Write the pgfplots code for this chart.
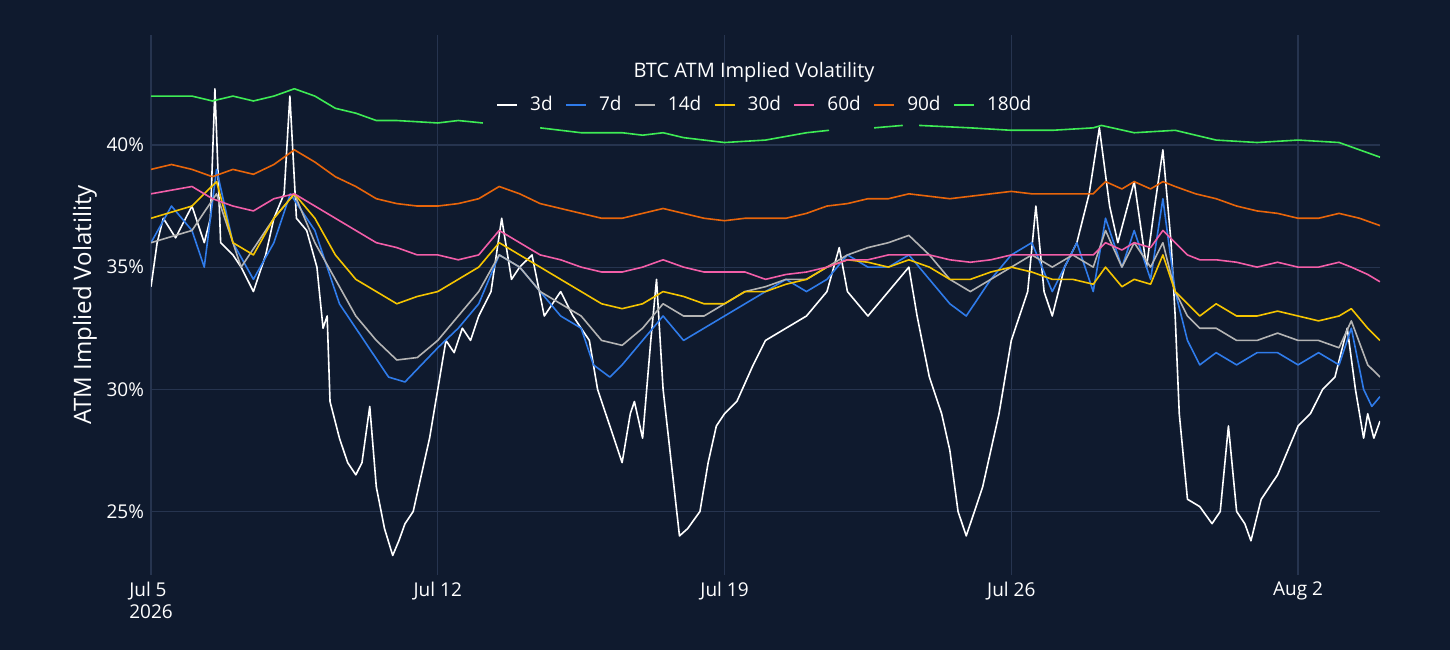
\documentclass[border=0pt]{standalone}
\usepackage{pgfplots}
\pgfplotsset{compat=1.18}
\usepackage{fontspec}
\setmainfont{Open Sans}
\definecolor{bg}{HTML}{0F1A2E}
\definecolor{gridc}{HTML}{26344F}
\definecolor{c3}{HTML}{FFFFFF}
\definecolor{c7}{HTML}{2F7BEA}
\definecolor{c14}{HTML}{B4B4B4}
\definecolor{c30}{HTML}{F5C400}
\definecolor{c60}{HTML}{F25EA8}
\definecolor{c90}{HTML}{E8650A}
\definecolor{c180}{HTML}{3EEB55}
\begin{document}
\begin{tikzpicture}
\fill[bg] (0,0) rectangle (725pt,325pt);
\useasboundingbox (0,0) rectangle (725pt,325pt);
\node[text=white,font=\fontsize{10}{12}\selectfont] at (377pt,289pt) {BTC ATM Implied Volatility};
\begin{axis}[at={(75.5pt,37.5pt)},anchor=south west,scale only axis,
width=614.5pt,height=270pt,xmin=0,xmax=30,ymin=22.4,ymax=44.5,
axis line style={draw=none},tick style={draw=none},
grid=major,grid style={gridc,line width=0.6pt},
xtick={0,7,14,21,28},xticklabels={Jul 5\\2026,Jul 12,Jul 19,Jul 26,Aug 2},
xticklabel style={align=left,text=white,font=\fontsize{9.5}{11}\selectfont},
ytick={25,30,35,40},yticklabels={25\%,30\%,35\%,40\%},
yticklabel style={text=white,font=\fontsize{9.5}{11}\selectfont},
ylabel={ATM Implied Volatility},ylabel style={text=white,font=\fontsize{12}{14}\selectfont,yshift=-2pt},
unbounded coords=jump,
legend style={at={(0.5,0.87)},anchor=center,draw=none,fill=none,text=white,font=\fontsize{9.5}{11}\selectfont,legend columns=-1,column sep=4pt},
legend image code/.code={\draw[#1,line width=1.2pt] (0pt,0pt)--(10pt,0pt);},
every axis plot/.append style={line width=0.8pt,line join=round}]
\addplot[c3] coordinates {(0,34.2)(0.15,36)(0.3,37)(0.6,36.2)(1,37.5)(1.3,36)(1.45,37)(1.56,42.3)(1.7,36)(2,35.5)(2.2,35)(2.5,34)(2.8,35.5)(3,37)(3.25,38)(3.39,42)(3.55,37)(3.8,36.5)(4.05,35)(4.2,32.5)(4.3,33)(4.37,29.5)(4.6,28)(4.8,27)(5,26.5)(5.15,27)(5.34,29.3)(5.5,26)(5.7,24.3)(5.9,23.2)(6.05,23.8)(6.2,24.5)(6.4,25)(6.6,26.5)(6.8,28)(7,30)(7.2,32)(7.4,31.5)(7.6,32.5)(7.8,32)(8,33)(8.3,34)(8.56,37)(8.8,34.5)(9,35)(9.3,35.5)(9.6,33)(10,34)(10.3,33)(10.7,32)(10.9,30)(11.1,29)(11.3,28)(11.5,27)(11.7,29)(11.8,29.5)(12,28)(12.2,32)(12.34,34.5)(12.5,30)(12.7,27)(12.9,24)(13.1,24.3)(13.4,25)(13.6,27)(13.8,28.5)(14,29)(14.3,29.5)(14.7,31)(15,32)(15.5,32.5)(16,33)(16.5,34)(16.8,35.8)(17,34)(17.5,33)(18,34)(18.5,35)(18.7,33)(19,30.5)(19.3,29)(19.5,27.5)(19.7,25)(19.9,24)(20.1,25)(20.3,26)(20.5,27.5)(20.7,29)(21,32)(21.2,33)(21.4,34)(21.6,37.5)(21.8,34)(22,33)(22.3,35)(22.6,36)(22.9,38)(23.15,40.7)(23.4,37.5)(23.6,36)(24,38.5)(24.3,35)(24.5,37.5)(24.7,39.8)(24.9,36)(25,33)(25.1,29)(25.3,25.5)(25.6,25.2)(25.9,24.5)(26.1,25)(26.3,28.5)(26.5,25)(26.7,24.5)(26.85,23.8)(27.1,25.5)(27.5,26.5)(28,28.5)(28.3,29)(28.6,30)(28.9,30.5)(29.2,32.5)(29.4,30)(29.6,28)(29.7,29)(29.85,28)(30,28.7)};
\addlegendentry{3d}
\addplot[c7] coordinates {(0,36)(0.5,37.5)(1,36.5)(1.3,35)(1.6,39)(2,36)(2.5,34.5)(3,36)(3.4,38)(4,36.5)(4.3,35)(4.6,33.5)(5,32.5)(5.4,31.5)(5.8,30.5)(6.2,30.3)(6.6,31)(7,31.7)(7.5,32.5)(8,33.5)(8.5,35.5)(9,35)(9.5,34)(10,33)(10.5,32.5)(10.8,31)(11.2,30.5)(11.5,31)(12,32)(12.5,33)(13,32)(13.5,32.5)(14,33)(14.5,33.5)(15,34)(15.5,34.5)(16,34)(16.5,34.5)(17,35.5)(17.5,35)(18,35)(18.5,35.5)(19,34.5)(19.5,33.5)(19.9,33)(20.5,34.5)(21,35.5)(21.5,36)(22,34)(22.6,36)(23,34)(23.3,37)(23.7,35)(24,36.5)(24.4,34.5)(24.7,37.8)(25,34)(25.3,32)(25.6,31)(26,31.5)(26.5,31)(27,31.5)(27.5,31.5)(28,31)(28.5,31.5)(29,31)(29.3,32.5)(29.6,30)(29.8,29.3)(30,29.7)};
\addlegendentry{7d}
\addplot[c14] coordinates {(0,36)(1,36.5)(1.6,38)(2.2,35)(3,37)(3.5,38)(4,36)(4.5,34.5)(5,33)(5.5,32)(6,31.2)(6.5,31.3)(7,32)(7.5,33)(8,34)(8.5,35.5)(9,35)(9.5,34)(10,33.5)(10.5,33)(11,32)(11.5,31.8)(12,32.5)(12.5,33.5)(13,33)(13.5,33)(14,33.5)(14.5,34)(15,34.2)(15.5,34.5)(16,34.5)(16.5,35)(17,35.5)(17.5,35.8)(18,36)(18.5,36.3)(19,35.5)(19.5,34.5)(20,34)(20.5,34.5)(21,35)(21.5,35.5)(22,35)(22.5,35.5)(23,35)(23.3,36.5)(23.7,35)(24,36)(24.4,35)(24.7,36)(25,34)(25.3,33)(25.6,32.5)(26,32.5)(26.5,32)(27,32)(27.5,32.3)(28,32)(28.5,32)(29,31.7)(29.3,32.8)(29.7,31)(30,30.5)};
\addlegendentry{14d}
\addplot[c30] coordinates {(0,37)(1,37.5)(1.6,38.5)(2,36)(2.5,35.5)(3,37)(3.5,38)(4,37)(4.5,35.5)(5,34.5)(5.5,34)(6,33.5)(6.5,33.8)(7,34)(7.5,34.5)(8,35)(8.5,36)(9,35.5)(9.5,35)(10,34.5)(10.5,34)(11,33.5)(11.5,33.3)(12,33.5)(12.5,34)(13,33.8)(13.5,33.5)(14,33.5)(14.5,34)(15,34)(15.5,34.3)(16,34.5)(16.5,35)(17,35.3)(17.5,35.2)(18,35)(18.5,35.3)(19,35)(19.5,34.5)(20,34.5)(20.5,34.8)(21,35)(21.5,34.8)(22,34.5)(22.5,34.5)(23,34.3)(23.3,35)(23.7,34.2)(24,34.5)(24.4,34.3)(24.7,35.5)(25,34)(25.3,33.5)(25.6,33)(26,33.5)(26.5,33)(27,33)(27.5,33.2)(28,33)(28.5,32.8)(29,33)(29.3,33.3)(29.7,32.5)(30,32)};
\addlegendentry{30d}
\addplot[c60] coordinates {(0,38)(1,38.3)(1.5,37.8)(2,37.5)(2.5,37.3)(3,37.8)(3.5,38)(4,37.5)(4.5,37)(5,36.5)(5.5,36)(6,35.8)(6.5,35.5)(7,35.5)(7.5,35.3)(8,35.5)(8.5,36.5)(9,36)(9.5,35.5)(10,35.3)(10.5,35)(11,34.8)(11.5,34.8)(12,35)(12.5,35.3)(13,35)(13.5,34.8)(14,34.8)(14.5,34.8)(15,34.5)(15.5,34.7)(16,34.8)(16.5,35)(17,35.3)(17.5,35.3)(18,35.5)(18.5,35.5)(19,35.5)(19.5,35.3)(20,35.2)(20.5,35.3)(21,35.5)(21.5,35.5)(22,35.5)(22.5,35.5)(23,35.5)(23.3,36)(23.7,35.7)(24,36)(24.4,35.8)(24.7,36.5)(25,36)(25.3,35.5)(25.6,35.3)(26,35.3)(26.5,35.2)(27,35)(27.5,35.2)(28,35)(28.5,35)(29,35.2)(29.3,35)(29.7,34.7)(30,34.4)};
\addlegendentry{60d}
\addplot[c90] coordinates {(0,39)(0.5,39.2)(1,39)(1.5,38.7)(2,39)(2.5,38.8)(3,39.2)(3.5,39.8)(4,39.3)(4.5,38.7)(5,38.3)(5.5,37.8)(6,37.6)(6.5,37.5)(7,37.5)(7.5,37.6)(8,37.8)(8.5,38.3)(9,38)(9.5,37.6)(10,37.4)(10.5,37.2)(11,37)(11.5,37)(12,37.2)(12.5,37.4)(13,37.2)(13.5,37)(14,36.9)(14.5,37)(15,37)(15.5,37)(16,37.2)(16.5,37.5)(17,37.6)(17.5,37.8)(18,37.8)(18.5,38)(19,37.9)(19.5,37.8)(20,37.9)(20.5,38)(21,38.1)(21.5,38)(22,38)(22.5,38)(23,38)(23.3,38.5)(23.7,38.2)(24,38.5)(24.4,38.2)(24.7,38.5)(25,38.3)(25.5,38)(26,37.8)(26.5,37.5)(27,37.3)(27.5,37.2)(28,37)(28.5,37)(29,37.2)(29.5,37)(30,36.7)};
\addlegendentry{90d}
\addplot[c180] coordinates {(0,42)(1,42)(1.5,41.8)(2,42)(2.5,41.8)(3,42)(3.5,42.3)(4,42)(4.5,41.5)(5,41.3)(5.5,41)(6,41)(7,40.9)(7.5,41)(8.1,40.9)(8.5,nan)(9.5,40.7)(10.5,40.5)(11.5,40.5)(12,40.4)(12.5,40.5)(13,40.3)(14,40.1)(15,40.2)(16,40.5)(16.55,40.6)(17,nan)(17.65,40.7)(18.35,40.8)(18.5,nan)(18.75,40.8)(20,40.7)(21,40.6)(22,40.6)(23,40.7)(23.2,40.8)(24,40.5)(25,40.6)(26,40.2)(27,40.1)(28,40.2)(29,40.1)(29.5,39.8)(30,39.5)};
\addlegendentry{180d}
\end{axis}
\end{tikzpicture}
\end{document}
